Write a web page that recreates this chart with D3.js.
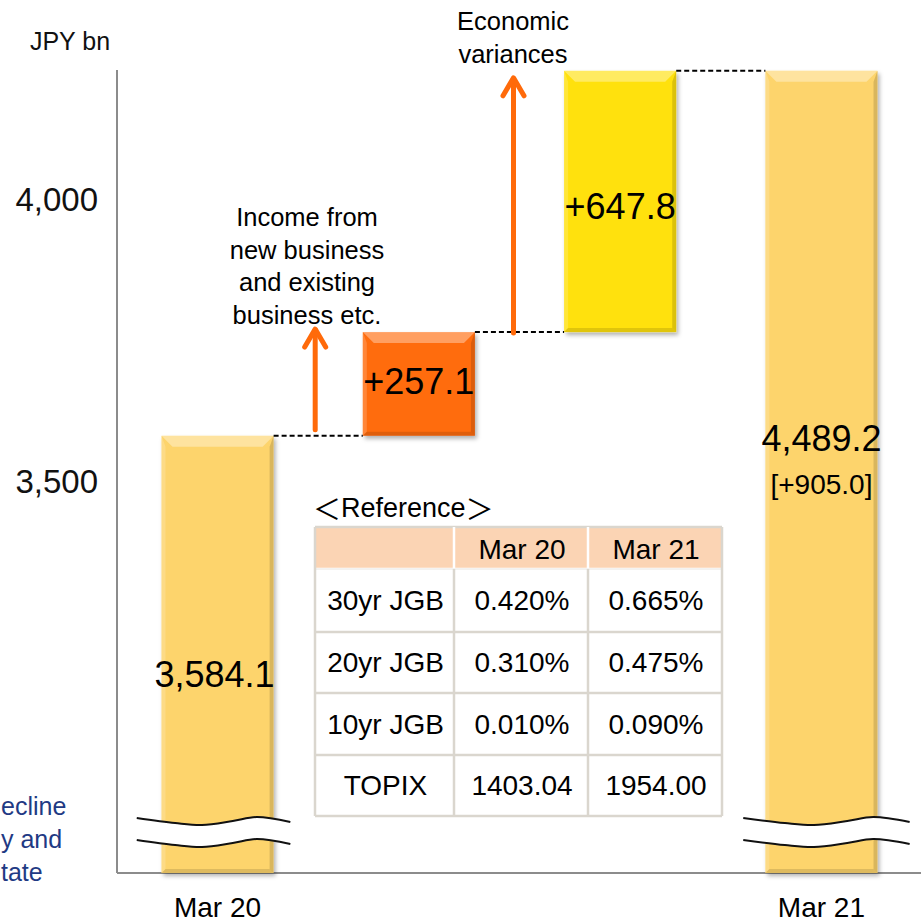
<!DOCTYPE html>
<html>
<head>
<meta charset="utf-8">
<script src="https://cdn.jsdelivr.net/npm/d3@7"></script>
<style>
  html, body { margin: 0; padding: 0; background: #fff; }
  svg { display: block; font-family: "Liberation Sans", Arial, sans-serif; }
</style>
</head>
<body>
<svg id="chart" width="921" height="923"></svg>
<script>
// ---- data -------------------------------------------------------------
const steps       = ["Mar 20", "Income", "Economic", "Mar 21"];
const stepKinds   = ["total", "delta", "delta", "total"];
const stepValues  = [3584.1, 257.1, 647.8, 4489.2];
const valueLabels = ["3,584.1", "+257.1", "+647.8", "4,489.2"];
const axisLabels  = ["Mar 20", "", "", "Mar 21"];
const totalChange = "[+905.0]";
const yTicks      = [3500, 4000];
const yTickLabels = ["3,500", "4,000"];
const unitLabel   = "JPY bn";

const incomeNote   = ["Income from", "new business", "and existing", "business etc."];
const economicNote = ["Economic", "variances"];
const sideNote     = ["ecline", "y and", "tate"];

const tableTitle   = ["＜", "Reference", "＞"];
const tableHeader  = ["", "Mar 20", "Mar 21"];
const tableRows    = ["30yr JGB", "20yr JGB", "10yr JGB", "TOPIX"];
const tableMar20   = ["0.420%", "0.310%", "0.010%", "1403.04"];
const tableMar21   = ["0.665%", "0.475%", "0.090%", "1954.00"];

// ---- styling ----------------------------------------------------------
const barColors = ["#FDD46C", "#FF6C0C", "#FFE10A", "#FDD46C"];
const arrowColor = "#FF6A0A";
const axisColor = "#8C8C8C";
const font = "'Liberation Sans', Arial, sans-serif";
const cjkFont = "'Noto Sans CJK JP', 'Noto Sans CJK SC', sans-serif";

const svg = d3.select("#chart");
const W = 921, H = 923;
const plot = { left: 117, right: 921, top: 70, bottom: 873 };

// waterfall extents
let running = 0;
const bars = steps.map((s, i) => {
  let lo, hi;
  if (stepKinds[i] === "total") { lo = null; hi = stepValues[i]; running = hi; }
  else { lo = running; hi = running + stepValues[i]; running = hi; }
  return { key: s, kind: stepKinds[i], lo, hi, i };
});

// scales
const x = d3.scaleBand().domain(steps)
  .range([plot.left + 0.5, plot.right + 0.5])
  .paddingInner(0.443).paddingOuter(0.2185);
// value scale (axis broken below ~2,500)
const y = d3.scaleLinear().domain([2500, 4500]).range([plot.bottom, 66.4]);
// the labelled value axis is drawn on its own broken scale
const yAxisScale = d3.scaleLinear().domain([3500, 4000]).range([481, 199]);

// filters
const defs = svg.append("defs");
const sh = defs.append("filter").attr("id", "shadow")
  .attr("x", "-20%").attr("y", "-20%").attr("width", "140%").attr("height", "140%");
sh.append("feDropShadow").attr("dx", 2).attr("dy", 3).attr("stdDeviation", 2.2)
  .attr("flood-color", "#000").attr("flood-opacity", 0.3);

// ---- axis lines -------------------------------------------------------
svg.append("line").attr("x1", plot.left).attr("x2", plot.left)
  .attr("y1", plot.top).attr("y2", plot.bottom)
  .attr("stroke", axisColor).attr("stroke-width", 2);
svg.append("line").attr("x1", plot.left).attr("x2", W)
  .attr("y1", plot.bottom).attr("y2", plot.bottom)
  .attr("stroke", axisColor).attr("stroke-width", 2);

// tick labels
const yAxis = d3.axisLeft(yAxisScale).tickValues(yTicks)
  .tickFormat((d, i) => yTickLabels[i]).tickSize(0).tickPadding(19);
const ya = svg.append("g").attr("transform", `translate(${plot.left},0)`).call(yAxis);
ya.select(".domain").remove();
ya.selectAll("text").attr("font-family", font).attr("font-size", 33)
  .attr("fill", "#111").attr("dy", "0.34em");

svg.append("text").attr("x", 70).attr("y", 41).attr("text-anchor", "middle")
  .attr("dominant-baseline", "central")
  .attr("font-size", 25).attr("fill", "#111").text(unitLabel);

// ---- bars -------------------------------------------------------------
const gBars = svg.append("g");
bars.forEach(b => {
  const bx = x(b.key), bw = x.bandwidth();
  const top = y(b.hi);
  const bottom = b.kind === "total" ? plot.bottom : y(b.lo);
  const bh = bottom - top;
  const g = gBars.append("g");
  g.append("rect").attr("x", bx).attr("y", top).attr("width", bw).attr("height", bh)
    .attr("fill", barColors[b.i]).attr("filter", "url(#shadow)");
  const bv = 11, br = 4;
  // bevel: lit top, soft left, darker right and bottom
  g.append("polygon").attr("points", [[bx, top], [bx + bw, top], [bx + bw - bv, top + bv], [bx + bv, top + bv]].join(" "))
    .attr("fill", "#fff").attr("opacity", 0.35);
  g.append("polygon").attr("points", [[bx, top], [bx + 4, top + bv], [bx + 4, bottom - 4], [bx, bottom]].join(" "))
    .attr("fill", "#fff").attr("opacity", 0.18);
  g.append("polygon").attr("points", [[bx + bw, top], [bx + bw, bottom], [bx + bw - br, bottom - br], [bx + bw - br, top + bv]].join(" "))
    .attr("fill", "#000").attr("opacity", 0.14);
  g.append("polygon").attr("points", [[bx, bottom], [bx + bw, bottom], [bx + bw - br, bottom - br], [bx + 4, bottom - br]].join(" "))
    .attr("fill", "#000").attr("opacity", 0.12);
});

// ---- dashed connectors -----------------------------------------------
for (let i = 0; i < bars.length - 1; i++) {
  const yy = y(bars[i].hi);
  svg.append("line")
    .attr("x1", x(steps[i]) + x.bandwidth()).attr("x2", x(steps[i + 1]))
    .attr("y1", yy).attr("y2", yy)
    .attr("stroke", "#000").attr("stroke-width", 2).attr("stroke-dasharray", "5,3");
}

// ---- arrows beside the increments -----------------------------------
const arrowPads = [[-6, 4], [1, 6]]; // [bottom shift, tip shift] in px
bars.filter(b => b.kind === "delta").forEach((b, k) => {
  const prev = bars[b.i - 1];
  const ax = (x(prev.key) + x.bandwidth() + x(b.key)) / 2 - 3 - k * 3;
  const yb = y(b.lo) + arrowPads[k][0];
  const yt = y(b.hi) + arrowPads[k][1] - (k === 0 ? 8 : 0);
  const g = svg.append("g").attr("stroke", arrowColor).attr("stroke-width", 5)
    .attr("fill", "none").attr("stroke-linecap", "round").attr("stroke-linejoin", "round");
  g.append("line").attr("x1", ax).attr("x2", ax).attr("y1", yb).attr("y2", yt + 2);
  g.append("polyline").attr("points", [[ax - 10.5, yt + 19], [ax, yt + 1], [ax + 10.5, yt + 19]].join(" "));
});

// ---- axis breaks ------------------------------------------------------
const wave = d3.line().curve(d3.curveCatmullRom.alpha(0.5));
const waveShape = [[-80, 0], [-40, 5], [-12, 7], [20, 3], [45, -1], [80, 4]];
[0, 3].forEach(i => {
  const cx = x(steps[i]) + x.bandwidth() / 2 + (i === 0 ? -4 : 5);
  const y0 = 818, gap = 22;
  const top = waveShape.map(p => [cx + p[0] * (i === 0 ? 0.96 : 1.04), y0 + p[1]]);
  const bot = top.map(p => [p[0], p[1] + gap]);
  const band = wave(top) + "L" + wave(bot.slice().reverse()).slice(1) + "Z";
  svg.append("path").attr("d", band).attr("fill", "#fff");
  svg.append("path").attr("d", wave(top)).attr("fill", "none").attr("stroke", "#111").attr("stroke-width", 2);
  svg.append("path").attr("d", wave(bot)).attr("fill", "none").attr("stroke", "#111").attr("stroke-width", 2);
});

// ---- value labels -----------------------------------------------------
const labelY = [674, null, null, 438];
const labelDx = [-3, 0, 0, 0];
bars.forEach(b => {
  const cx = x(b.key) + x.bandwidth() / 2 + labelDx[b.i];
  const ly = b.kind === "delta" ? (y(b.lo) + y(b.hi)) / 2 + (b.i === 2 ? 5 : -2) : labelY[b.i];
  svg.append("text").attr("x", cx).attr("y", ly).attr("text-anchor", "middle")
    .attr("dominant-baseline", "central").attr("font-size", 36).attr("fill", "#000")
    .text(valueLabels[b.i]);
});
svg.append("text").attr("x", x("Mar 21") + x.bandwidth() / 2).attr("y", 484)
  .attr("text-anchor", "middle").attr("dominant-baseline", "central")
  .attr("font-size", 28).attr("fill", "#000").text(totalChange);

// category labels
steps.forEach((s, i) => {
  if (!axisLabels[i]) return;
  svg.append("text").attr("x", x(s) + x.bandwidth() / 2).attr("y", 907)
    .attr("text-anchor", "middle").attr("dominant-baseline", "central")
    .attr("font-size", 28).attr("fill", "#000").text(axisLabels[i]);
});

// ---- annotations ------------------------------------------------------
incomeNote.forEach((t, i) => {
  svg.append("text").attr("x", 307).attr("y", 217 + i * 32.7).attr("text-anchor", "middle")
    .attr("dominant-baseline", "central").attr("font-size", 25.5).attr("fill", "#000").text(t);
});
economicNote.forEach((t, i) => {
  svg.append("text").attr("x", 513).attr("y", 21 + i * 32.5).attr("text-anchor", "middle")
    .attr("dominant-baseline", "central").attr("font-size", 25.5).attr("fill", "#000").text(t);
});
sideNote.forEach((t, i) => {
  svg.append("text").attr("x", 1).attr("y", 806 + i * 33).attr("text-anchor", "start")
    .attr("dominant-baseline", "central").attr("font-size", 25).attr("fill", "#1F3A84").text(t);
});

// ---- reference table --------------------------------------------------
const colX = [315, 454, 588, 722];
const rowY = [527, 569, 632, 693, 755, 816];
const tg = svg.append("g");
const title = tg.append("text").attr("x", 313).attr("y", 508).attr("dominant-baseline", "central")
  .attr("font-size", 27).attr("fill", "#000");
title.append("tspan").attr("font-family", cjkFont).attr("font-size", 28).text(tableTitle[0]);
title.append("tspan").text(tableTitle[1]);
title.append("tspan").attr("font-family", cjkFont).attr("font-size", 28).text(tableTitle[2]);

tg.append("rect").attr("x", colX[0]).attr("y", rowY[0]).attr("width", colX[3] - colX[0])
  .attr("height", rowY[5] - rowY[0]).attr("fill", "#fff");
tg.append("rect").attr("x", colX[0]).attr("y", rowY[0]).attr("width", colX[3] - colX[0])
  .attr("height", rowY[1] - rowY[0]).attr("fill", "#FBD4B4");
// grid
rowY.forEach((ry, i) => {
  tg.append("line").attr("x1", colX[0]).attr("x2", colX[3]).attr("y1", ry).attr("y2", ry)
    .attr("stroke", i === 1 ? "#fff" : "#DAD6CE").attr("stroke-width", 2.5);
});
colX.forEach((cx, i) => {
  const inner = i === 1 || i === 2;
  tg.append("line").attr("x1", cx).attr("x2", cx).attr("y1", rowY[1]).attr("y2", rowY[5])
    .attr("stroke", "#DAD6CE").attr("stroke-width", 2.5);
  tg.append("line").attr("x1", cx).attr("x2", cx).attr("y1", rowY[0]).attr("y2", rowY[1])
    .attr("stroke", inner ? "#fff" : "#DAD6CE").attr("stroke-width", 2.5);
});
tg.append("line").attr("x1", colX[0]).attr("x2", colX[3]).attr("y1", rowY[1]).attr("y2", rowY[1])
  .attr("stroke", "#DAD6CE").attr("stroke-width", 1).attr("opacity", 0.6);
const colMid = i => (colX[i] + colX[i + 1]) / 2;
const rowMid = i => (rowY[i] + rowY[i + 1]) / 2;
tableHeader.forEach((t, c) => {
  if (!t) return;
  tg.append("text").attr("x", colMid(c) + 1).attr("y", rowMid(0) + 1).attr("text-anchor", "middle")
    .attr("dominant-baseline", "central").attr("font-size", 28).attr("fill", "#000").text(t);
});
tableRows.forEach((r, k) => {
  [r, tableMar20[k], tableMar21[k]].forEach((t, c) => {
    tg.append("text").attr("x", colMid(c) + 1).attr("y", rowMid(k + 1)).attr("text-anchor", "middle")
      .attr("dominant-baseline", "central").attr("font-size", 28).attr("fill", "#000").text(t);
  });
});
</script>
</body>
</html>
